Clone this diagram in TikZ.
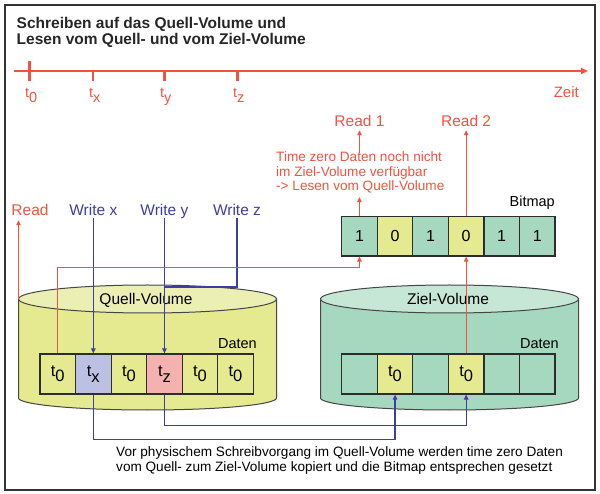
\documentclass[tikz,border=0pt]{standalone}
\usepackage{fontspec}
\setmainfont{Liberation Sans}
\usetikzlibrary{arrows.meta}
\definecolor{myred}{RGB}{240,84,62}
\definecolor{myblue}{RGB}{62,62,162}
\definecolor{ybody}{RGB}{229,233,143}
\definecolor{ytop}{RGB}{235,239,180}
\definecolor{gbody}{RGB}{166,216,192}
\definecolor{gtop}{RGB}{198,230,214}
\definecolor{lav}{RGB}{188,192,226}
\definecolor{pinkc}{RGB}{245,176,176}
\definecolor{edge}{RGB}{45,45,45}
\definecolor{cyledge}{RGB}{70,70,70}
\newcommand\fs[1]{\fontsize{#1}{#1}\selectfont}
\newcommand\tsb[1]{t\raisebox{-0.33em}{#1}}
\begin{document}
\begin{tikzpicture}[x=1pt,y=-1pt,
  cell/.style={draw=edge, line width=1.2pt, minimum width=35.55pt, minimum height=40pt, inner sep=0pt, font=\fs{16.5}},
  bcell/.style={cell, minimum height=39.3pt, font=\fs{16}},
  tip/.style={-{Triangle[length=5pt,width=4.5pt]}},
  redarr/.style={draw=myred, line width=1.1pt, tip},
  bluearr/.style={draw=myblue, line width=1.1pt, tip},
  redln/.style={draw=myred, line width=1.1pt},
  blueln/.style={draw=myblue, line width=1.1pt},
  lbl/.style={font=\fs{15.5}, anchor=base, inner sep=0pt, text depth=0pt},
  tlbl/.style={font=\fs{14.5}, anchor=base west, inner sep=0pt, text=myred},
  cyl/.style={draw=cyledge, line width=1pt},
  para/.style={align=left, anchor=north west, inner sep=0pt}
]
\useasboundingbox (0,0) rectangle (600,494);
\draw[line width=2pt, draw=black!80] (4.7,4.7) rectangle (595,489.5);

% title
\node[font=\bfseries\fs{15.5}, anchor=base west, inner sep=0pt, text=black!85] (title1) at (16.5,28.3) {Schreiben auf das Quell-Volume und};
\node[font=\bfseries\fs{15.5}, anchor=base west, inner sep=0pt, text=black!85] (title2) at (16.5,44.3) {Lesen vom Quell- und vom Ziel-Volume};

% timeline
\coordinate (ta) at (14,71);
\coordinate (tb) at (588,71);
\draw[myred, line width=2.2pt, -{Triangle[length=7pt,width=6pt]}] (ta) -- (tb);
\draw[myred, line width=2.2pt] (29.5,61.5) -- (29.5,81.5);
\draw[myred, line width=2.2pt] (93.3,71) -- (93.3,81.5);
\draw[myred, line width=2.2pt] (164.5,71) -- (164.5,81.5);
\draw[myred, line width=2.2pt] (237.5,71) -- (237.5,81.5);
\node[tlbl] (l0) at (25,97.5) {\tsb{0}};
\node[tlbl] (lx) at (88.8,97.5) {\tsb{x}};
\node[tlbl] (ly) at (160,97.5) {\tsb{y}};
\node[tlbl] (lz) at (233,97.5) {\tsb{z}};
\node[font=\fs{15}, anchor=base east, inner sep=0pt, text=myred] (zeit) at (579,98) {Zeit};

% cylinders
\path[cyl, fill=ybody] (18.5,299) -- (18.5,398) arc[start angle=180, end angle=0, x radius=129, y radius=12] -- (276.5,299) -- cycle;
\draw[cyl, fill=ytop] (147.5,299) ellipse [x radius=129, y radius=14];
\path[cyl, fill=gbody] (320.5,299) -- (320.5,398) arc[start angle=180, end angle=0, x radius=129, y radius=12] -- (578.5,299) -- cycle;
\draw[cyl, fill=gtop] (449.5,299) ellipse [x radius=129, y radius=14];
\coordinate (qtl) at (18.5,299);

\node[font=\fs{15.5}, anchor=base, inner sep=0pt] (qv) at (146,305) {Quell-Volume};
\node[font=\fs{15.5}, anchor=base, inner sep=0pt] (zv) at (448,305) {Ziel-Volume};
\node[font=\fs{14.5}, anchor=base east, inner sep=0pt] (qd) at (257,348.3) {Daten};
\node[font=\fs{14.5}, anchor=base east, inner sep=0pt] (zd) at (559,348.3) {Daten};

% quell cells
\node[cell, fill=ybody] (q1) at (57.78,374) {\tsb{0}};
\node[cell, fill=lav]   (q2) at (93.33,374) {\tsb{x}};
\node[cell, fill=ybody] (q3) at (128.88,374) {\tsb{0}};
\node[cell, fill=pinkc] (q4) at (164.43,374) {\tsb{z}};
\node[cell, fill=ybody] (q5) at (199.98,374) {\tsb{0}};
\node[cell, fill=ybody] (q6) at (235.53,374) {\tsb{0}};

% ziel cells
\node[cell, fill=gbody] (z1) at (359.48,374) {};
\node[cell, fill=ybody] (z2) at (395.03,374) {\tsb{0}};
\node[cell, fill=gbody] (z3) at (430.58,374) {};
\node[cell, fill=ybody] (z4) at (466.13,374) {\tsb{0}};
\node[cell, fill=gbody] (z5) at (501.68,374) {};
\node[cell, fill=gbody] (z6) at (537.23,374) {};

% bitmap
\node[bcell, fill=gbody] (b1) at (359.48,236.35) {1};
\node[bcell, fill=ybody] (b2) at (395.03,236.35) {0};
\node[bcell, fill=gbody] (b3) at (430.58,236.35) {1};
\node[bcell, fill=ybody] (b4) at (466.13,236.35) {0};
\node[bcell, fill=gbody] (b5) at (501.68,236.35) {1};
\node[bcell, fill=gbody] (b6) at (537.23,236.35) {1};
\node[font=\fs{14.5}, anchor=base east, inner sep=0pt] (bm) at (555,207) {Bitmap};

% labels
\node[lbl, text=myred] (rd) at (30,216) {Read};
\node[lbl, text=myblue] (wx) at (93.33,216) {Write x};
\node[lbl, text=myblue] (wy) at (164.43,216) {Write y};
\node[lbl, text=myblue] (wz) at (237,216) {Write z};
\node[lbl, text=myred] (r1) at (359.48,127) {Read 1};
\node[lbl, text=myred] (r2) at (466.13,127) {Read 2};

\node[para, font=\fontsize{13.6}{14.8}\selectfont, text=myred] (expl) at (276,151.2)
  {Time zero Daten noch nicht\\im Ziel-Volume verfügbar\\-> Lesen vom Quell-Volume};
\node[para, font=\fontsize{13.6}{14.4}\selectfont] (note) at (116,446.8)
  {Vor physischem Schreibvorgang im Quell-Volume werden time zero Daten\\vom Quell- zum Ziel-Volume kopiert und die Bitmap entsprechen gesetzt};

% connectors
\draw[redarr, shorten >=4pt] (qtl) -- (qtl |- rd.south);
\draw[bluearr, shorten <=2pt] (wx.south) -- (q2.north);
\draw[bluearr, shorten <=2pt] (wy.south) -- (q4.north);
\coordinate (zj) at (164.43,287);
\draw[blueln, shorten <=2pt] (wz.south) |- (zj) -- (q4.north);
\draw[redarr] (q1.north) -- ++(0,-85.5) -| (b1.south);
\draw[redarr, shorten >=3.5pt] (b1.north) -- (b1.north |- expl.south);
\draw[redarr, shorten <=-2pt, shorten >=3pt] (b1.north |- expl.north) -- (r1.south);
\draw[redarr, shorten >=3pt] (b4.north) -- (r2.south);
\draw[redarr] (z4.north) -- (b4.south);
\draw[bluearr] (q2.south) -- ++(0,44.5) -| (z2.south);
\draw[bluearr] (q4.south) -- ++(0,30.5) -| (z4.south);
\end{tikzpicture}
\end{document}
